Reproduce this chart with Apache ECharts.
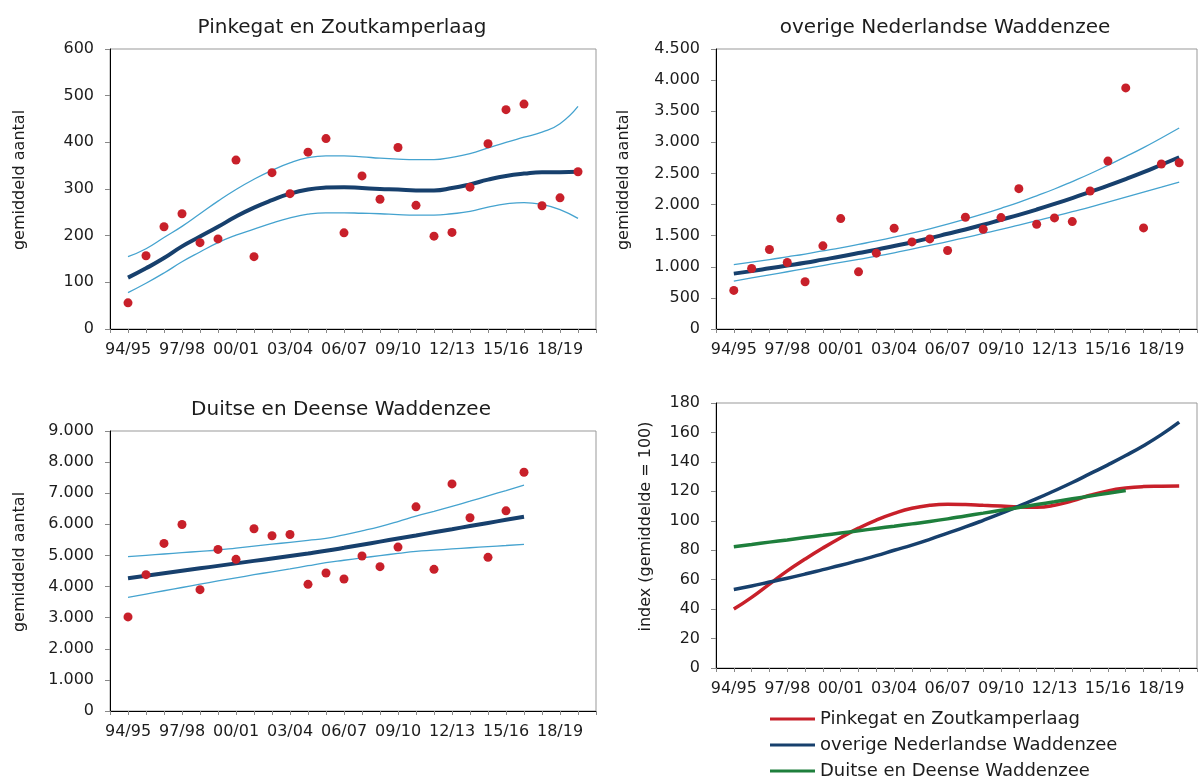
<!DOCTYPE html>
<html>
<head>
<meta charset="utf-8">
<script src="https://cdn.jsdelivr.net/npm/echarts@6/dist/echarts.min.js"></script>
<style>
  html,body{margin:0;padding:0;background:#fff;}
  #chart{width:1200px;height:780px;}
</style>
</head>
<body>
<div id="chart"></div>
<script>
/* ==========================================================
   trends wadvogels - vier panelen
========================================================== */

const seizoenen = ['94/95','95/96','96/97','97/98','98/99','99/00','00/01','01/02','02/03','03/04','04/05','05/06','06/07',
                   '07/08','08/09','09/10','10/11','11/12','12/13','13/14','14/15','15/16','16/17','17/18','18/19','19/20'];

// Pinkegat en Zoutkamperlaag
const pinkPunten = [56,157,219,247,185,193,362,155,335,290,379,408,206,328,278,389,265,199,207,304,397,470,482,264,281,337];
const pinkTrend  = [110,130,152,177,198,219,241,260,276,290,299,303,304,302,300,299,297,297,302,310,320,328,333,336,336,337];
const pinkBoven  = [155,172,196,220,247,274,299,321,340,356,367,371,371,369,366,364,363,363,368,376,388,400,411,422,440,477];
const pinkOnder  = [78,98,120,144,165,185,201,214,227,238,246,249,249,248,247,245,244,244,247,252,261,268,271,267,256,237];

// overige Nederlandse Waddenzee
const overigPunten = [620,973,1277,1069,759,1336,1774,919,1219,1619,1400,1448,1261,1796,1603,1790,2255,1683,1785,1726,2218,2699,3875,1625,2651,2672];
const overigTrend  = [890,930,975,1020,1065,1115,1165,1220,1275,1335,1395,1460,1530,1600,1675,1755,1835,1920,2010,2105,2205,2305,2410,2520,2640,2760];
const overigBoven  = [1035,1075,1115,1160,1205,1255,1305,1360,1415,1475,1540,1610,1685,1765,1850,1940,2035,2140,2250,2370,2495,2630,2770,2915,3070,3230];
const overigOnder  = [770,820,870,920,970,1020,1070,1120,1170,1225,1285,1345,1405,1470,1535,1600,1670,1740,1810,1885,1960,2040,2120,2200,2280,2362];

// Duitse en Deense Waddenzee
const duitsPunten = [3025,4382,5387,5996,3901,5194,4874,5857,5633,5675,4072,4436,4243,4981,4639,5269,6563,4553,7300,6210,4938,6434,7674];
const duitsTrend  = [4265,4345,4425,4505,4585,4665,4745,4825,4905,4985,5065,5150,5245,5345,5445,5545,5643,5745,5845,5945,6045,6145,6242];
const duitsBoven  = [4960,5003,5046,5089,5132,5175,5237,5299,5361,5423,5485,5547,5660,5790,5930,6090,6263,6420,6580,6744,6915,7085,7257];
const duitsOnder  = [3655,3760,3865,3970,4075,4180,4280,4380,4475,4570,4670,4767,4845,4920,4995,5065,5130,5170,5210,5248,5285,5320,5355];

// index (gemiddelde = 100)
const indexPink   = [40,48,57,66,74,81.5,88.5,95,100.5,105,108.5,110.5,111.2,111,110.5,110,109.4,109.2,110.5,113.5,117.3,120.3,122.2,123.2,123.5,123.7];
const indexOverig = [53.3,55.7,58.4,61,63.8,66.8,69.8,73,76.3,80,83.5,87.4,91.6,95.8,100.3,105,110,115,120.4,126,132,138,144.3,151,158.5,167];
const indexDuits  = [82.4,83.9,85.5,87,88.6,90.1,91.7,93.2,94.8,96.3,97.9,99.5,101.3,103.3,105.2,107.1,109,111,112.9,114.9,116.8,118.7,120.6];

const FONT = 'DejaVu Sans';
const TEKST = '#1c1c1c';
const ROOD = '#C8202A';
const DONKER = '#17406D';
const LICHT = '#45A3CF';
const GROEN = '#1E7F3C';

function punten(arr){
    return arr.map((v,i)=>[i+1,v]);
}

function duizend(v){
    return String(v).replace(/\B(?=(\d{3})+(?!\d))/g,'.');
}

function xAs(grid){
    return {
        type:'value',
        gridIndex:grid,
        min:0,
        max:27,
        interval:1,
        axisLine:{lineStyle:{color:'#000',width:1}},
        axisTick:{show:true,length:4,lineStyle:{color:'#888'}},
        splitLine:{show:false},
        axisLabel:{
            margin:13,
            fontFamily:FONT,
            fontSize:16,
            color:TEKST,
            showMinLabel:true,
            showMaxLabel:true,
            formatter:function(v){
                const i=v-1;
                if(i>=0 && i<seizoenen.length && i%3===0){
                    return seizoenen[i];
                }
                return '';
            }
        }
    };
}

function yAs(grid,max,interval,naam,gap){
    return {
        type:'value',
        gridIndex:grid,
        min:0,
        max:max,
        interval:interval,
        name:naam,
        nameLocation:'middle',
        nameGap:gap,
        nameTextStyle:{fontFamily:FONT,fontSize:16,color:TEKST,padding:[0,0,0,18]},
        axisLine:{show:true,lineStyle:{color:'#000',width:1}},
        axisTick:{show:true,length:5,lineStyle:{color:'#888'}},
        splitLine:{show:false},
        axisLabel:{
            margin:16,
            fontFamily:FONT,
            fontSize:16,
            color:TEKST,
            formatter:duizend
        }
    };
}

function paneel(grid,p,trend,boven,onder){
    return [
        {type:'line',xAxisIndex:grid,yAxisIndex:grid,data:punten(boven),smooth:true,showSymbol:false,
            lineStyle:{color:LICHT,width:1.3},z:2},
        {type:'line',xAxisIndex:grid,yAxisIndex:grid,data:punten(onder),smooth:true,showSymbol:false,
            lineStyle:{color:LICHT,width:1.3},z:2},
        {type:'line',xAxisIndex:grid,yAxisIndex:grid,data:punten(trend),smooth:true,showSymbol:false,
            lineStyle:{color:DONKER,width:4},z:3},
        {type:'scatter',xAxisIndex:grid,yAxisIndex:grid,data:punten(p),symbolSize:9,
            itemStyle:{color:ROOD,opacity:1},z:4}
    ];
}

const chart = echarts.init(document.getElementById('chart'),null,{renderer:'canvas'});

const gridStijl = {show:true,borderColor:'#999',borderWidth:1,backgroundColor:'transparent'};

const titelStijl = {fontFamily:FONT,fontSize:20,fontWeight:'normal',color:TEKST};

const option = {

    animation:false,
    backgroundColor:'#fff',

    title:[
        {text:'Pinkegat en Zoutkamperlaag',left:337,top:13,textAlign:'center',textStyle:titelStijl},
        {text:'overige Nederlandse Waddenzee',left:940,top:13,textAlign:'center',textStyle:titelStijl},
        {text:'Duitse en Deense Waddenzee',left:336,top:395,textAlign:'center',textStyle:titelStijl}
    ],

    grid:[
        Object.assign({left:110,top:49,width:486,height:280},gridStijl),
        Object.assign({left:716,top:49,width:486,height:280},gridStijl),
        Object.assign({left:110,top:431,width:486,height:280},gridStijl),
        Object.assign({left:716,top:403,width:486,height:265},gridStijl)
    ],

    xAxis:[xAs(0),xAs(1),xAs(2),xAs(3)],

    yAxis:[
        yAs(0,600,100,'gemiddeld aantal',82),
        yAs(1,4500,500,'gemiddeld aantal',84),
        yAs(2,9000,1000,'gemiddeld aantal',82),
        yAs(3,180,20,'index (gemiddelde = 100)',62)
    ],

    legend:{
        orient:'vertical',
        left:770,
        top:710,
        height:120,
        padding:0,
        itemWidth:45,
        itemHeight:3,
        itemGap:8,
        icon:'rect',
        textStyle:{fontFamily:FONT,fontSize:18,lineHeight:18,color:TEKST},
        data:['Pinkegat en Zoutkamperlaag','overige Nederlandse Waddenzee','Duitse en Deense Waddenzee']
    },

    series:[
        ...paneel(0,pinkPunten,pinkTrend,pinkBoven,pinkOnder),
        ...paneel(1,overigPunten,overigTrend,overigBoven,overigOnder),
        ...paneel(2,duitsPunten,duitsTrend,duitsBoven,duitsOnder),
        {name:'Pinkegat en Zoutkamperlaag',type:'line',xAxisIndex:3,yAxisIndex:3,data:punten(indexPink),
            smooth:true,showSymbol:false,lineStyle:{color:ROOD,width:3.5},itemStyle:{color:ROOD}},
        {name:'overige Nederlandse Waddenzee',type:'line',xAxisIndex:3,yAxisIndex:3,data:punten(indexOverig),
            smooth:true,showSymbol:false,lineStyle:{color:DONKER,width:3.5},itemStyle:{color:DONKER}},
        {name:'Duitse en Deense Waddenzee',type:'line',xAxisIndex:3,yAxisIndex:3,data:punten(indexDuits),
            smooth:true,showSymbol:false,lineStyle:{color:GROEN,width:3.5},itemStyle:{color:GROEN}}
    ]

};

chart.setOption(option);
</script>
</body>
</html>
